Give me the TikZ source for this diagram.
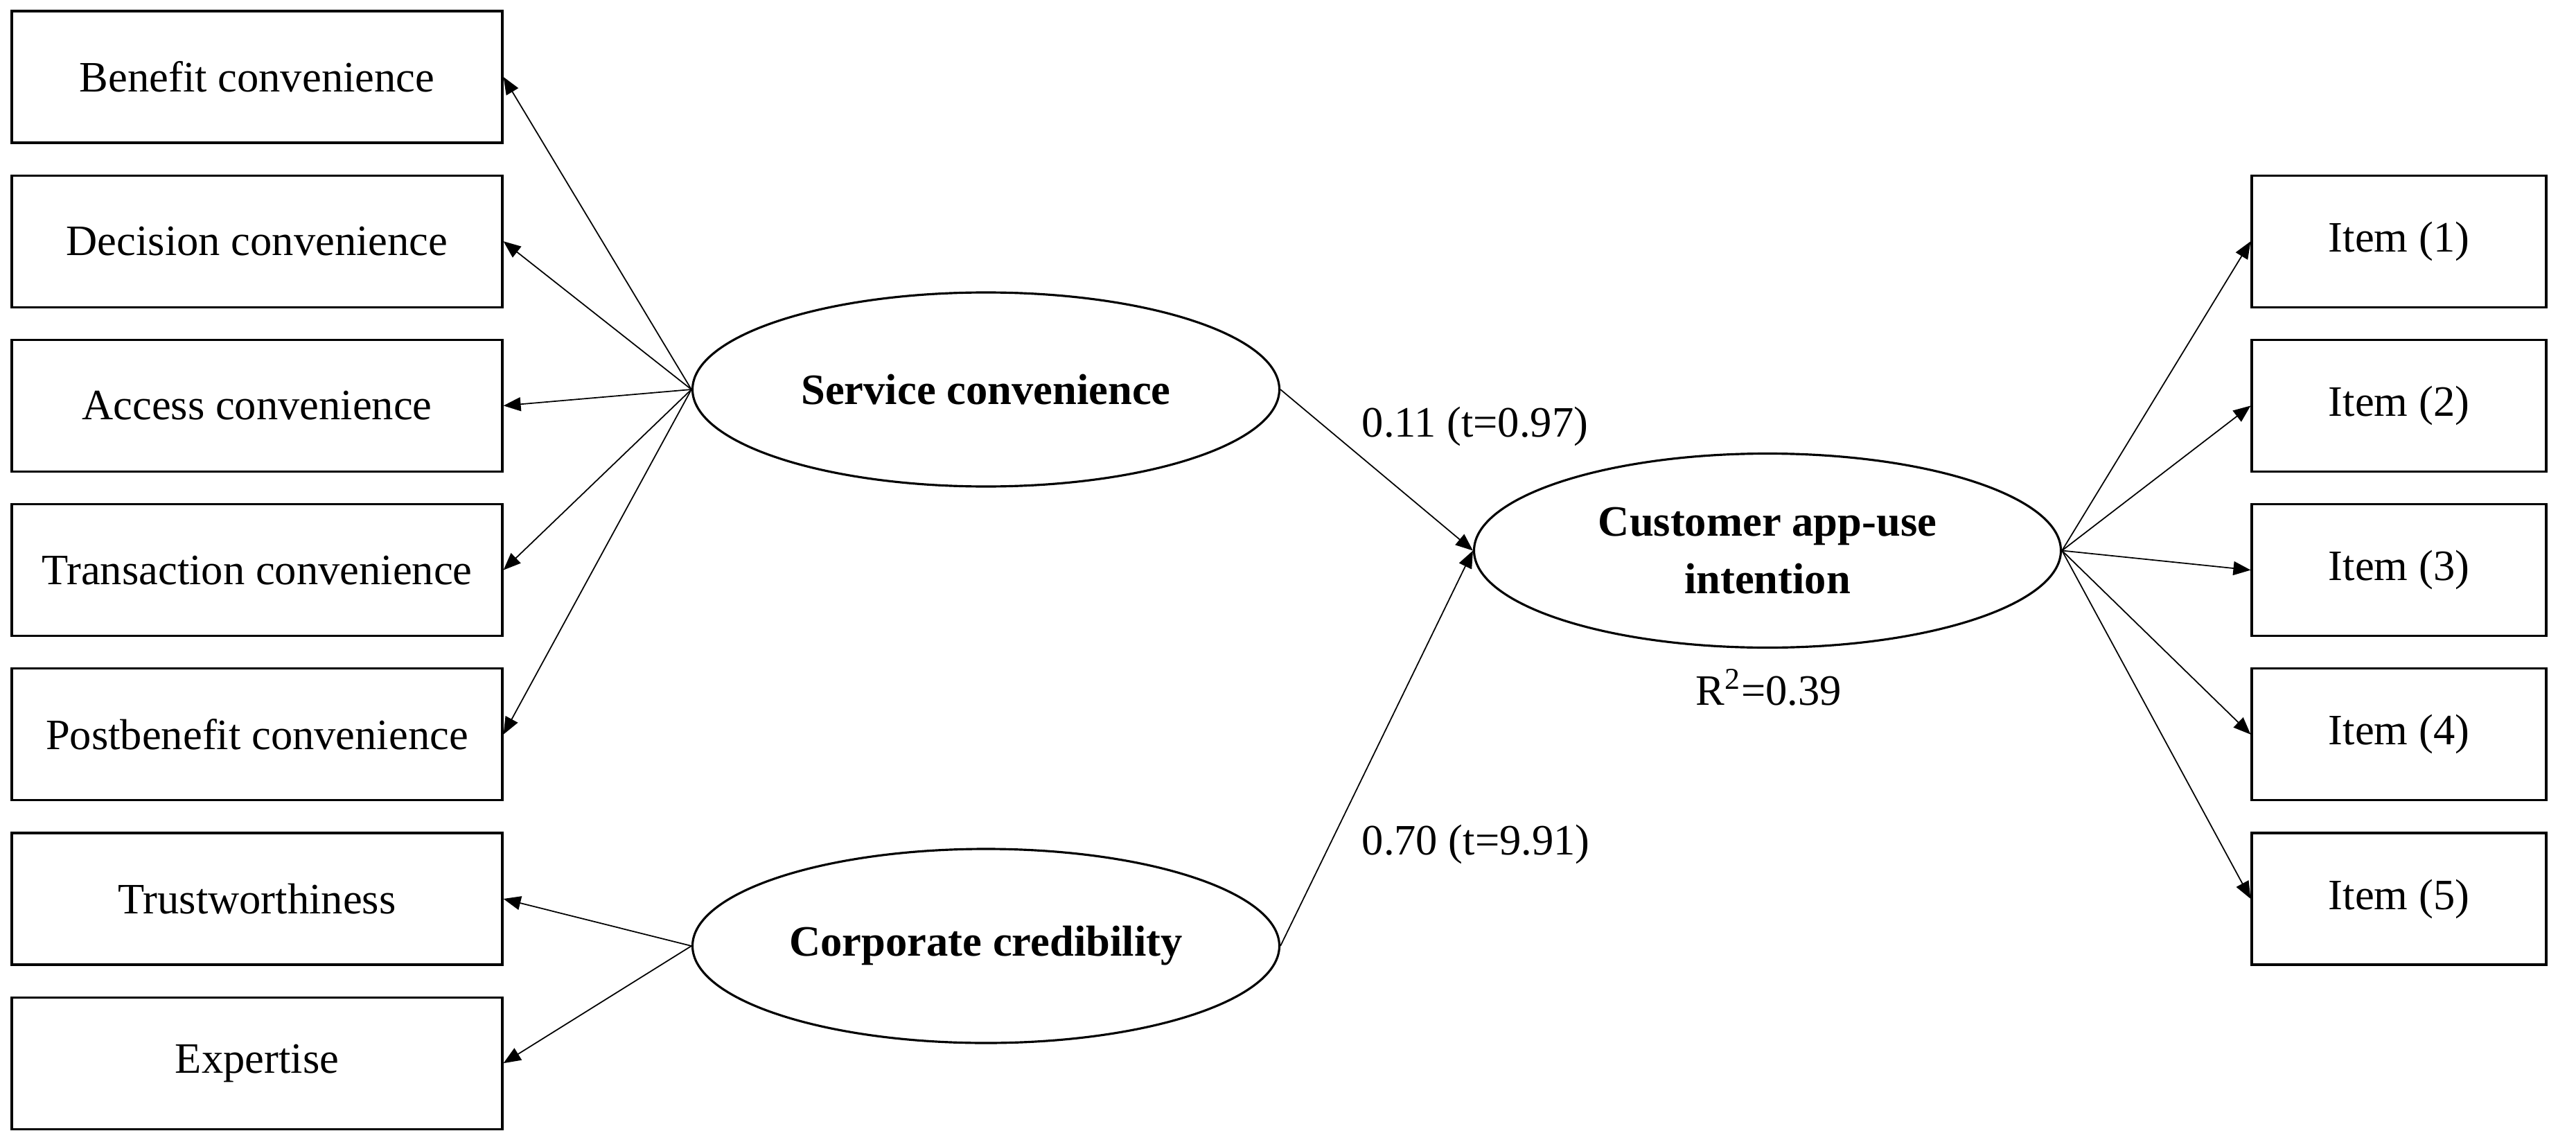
\documentclass[tikz,border=0pt]{standalone}
\usepackage{fontspec}
\setmainfont{Liberation Serif}
\usetikzlibrary{shapes.geometric, arrows.meta}

\begin{document}
\begin{tikzpicture}[measure/.style={draw, line width=0.9pt, minimum width=7.08cm, minimum height=1.9cm, font=\fontsize{17.8}{21}\selectfont}, itembox/.style={measure, minimum width=4.25cm}, latent/.style={draw, ellipse, line width=0.9pt, minimum width=8.47cm, minimum height=2.8cm, inner sep=0pt, align=center, font=\fontsize{17.8}{23.6}\selectfont\bfseries}, link/.style={line width=0.5pt, -{Triangle[length=0.25cm, width=0.2cm]}}, coef/.style={font=\fontsize{17.8}{21}\selectfont, inner sep=0pt}]
			\useasboundingbox (0,0) rectangle (37.18,16.44);
			\node[measure] (benefit) at (3.71,15.33) {Benefit convenience};
			\node[measure] (decision) at (3.71,12.958) {Decision convenience};
			\node[measure] (access) at (3.71,10.586) {Access convenience};
			\node[measure] (transaction) at (3.71,8.214) {Transaction convenience};
			\node[measure] (postbenefit) at (3.71,5.842) {Postbenefit convenience};
			\node[measure] (trust) at (3.71,3.47) {Trustworthiness};
			\node[measure] (expertise) at (3.71,1.098) {Expertise};
			\node[latent] (service) at (14.23,10.82) {Service convenience};
			\node[latent] (credibility) at (14.23,2.79) {Corporate credibility};
			\node[latent] (intention) at (25.51,8.495) {Customer app-use\\intention};
			\node[itembox] (item1) at (34.625,12.958) {Item (1)};
			\node[itembox] (item2) at (34.625,10.586) {Item (2)};
			\node[itembox] (item3) at (34.625,8.214) {Item (3)};
			\node[itembox] (item4) at (34.625,5.842) {Item (4)};
			\node[itembox] (item5) at (34.625,3.47) {Item (5)};
			\node[coef, anchor=base west] (beta1) at (19.65,10.14) {0.11 (t=0.97)};
			\node[coef, anchor=base west] (beta2) at (19.65,4.11) {0.70 (t=9.91)};
			\node[coef, anchor=base west] (rsq) at (24.47,6.27) {R\textsuperscript{2}=0.39};
			\draw[link] (service.west) -- (benefit.east);
			\draw[link] (service.west) -- (decision.east);
			\draw[link] (service.west) -- (access.east);
			\draw[link] (service.west) -- (transaction.east);
			\draw[link] (service.west) -- (postbenefit.east);
			\draw[link] (credibility.west) -- (trust.east);
			\draw[link] (credibility.west) -- (expertise.east);
			\draw[link] (service.east) -- (intention.west);
			\draw[link] (credibility.east) -- (intention.west);
			\draw[link] (intention.east) -- (item1.west);
			\draw[link] (intention.east) -- (item2.west);
			\draw[link] (intention.east) -- (item3.west);
			\draw[link] (intention.east) -- (item4.west);
			\draw[link] (intention.east) -- (item5.west);
			\end{tikzpicture}
\end{document}
